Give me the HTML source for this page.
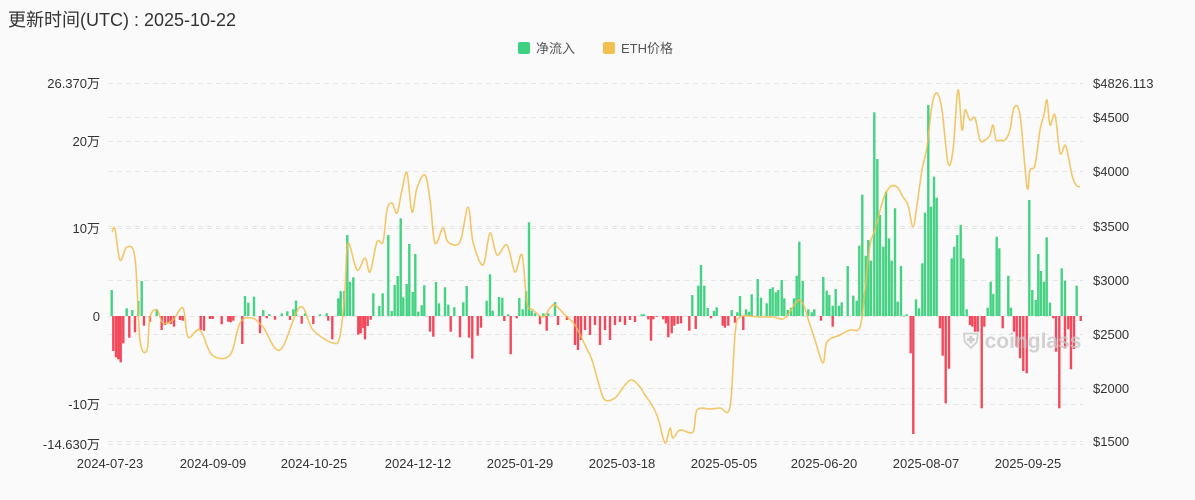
<!DOCTYPE html>
<html><head><meta charset="utf-8"><style>
html,body{margin:0;padding:0;background:#fafafa;}
body{width:1195px;height:500px;overflow:hidden;font-family:"Liberation Sans","Noto Sans CJK SC",sans-serif;}
</style></head><body>
<svg id="s" width="1195" height="500" xmlns="http://www.w3.org/2000/svg" style="position:absolute;left:0;top:0">
<text x="8" y="26" font-size="18" fill="#333" font-family="Liberation Sans, Noto Sans CJK SC, sans-serif">更新时间(UTC) : 2025-10-22</text>
<rect x="518" y="42" width="12" height="12" rx="2" fill="#3fd17f"/>
<text x="536" y="53" font-size="13" fill="#555" font-family="Liberation Sans, Noto Sans CJK SC, sans-serif">净流入</text>
<rect x="603" y="42" width="12" height="12" rx="2" fill="#f0c050"/>
<text x="621" y="53" font-size="13" fill="#555" font-family="Liberation Sans, Noto Sans CJK SC, sans-serif">ETH价格</text>
<g id="grid" stroke="#e6e6e6" stroke-dasharray="5,4" stroke-width="1"></g>
<g id="bars"></g>
<text x="963" y="348" font-size="21" font-weight="bold" fill="#c8c8c8" opacity="0.8" font-family="Liberation Sans, sans-serif">⛨ coinglass</text>
<path id="price" fill="none" stroke="#f0bd4f" stroke-opacity="0.85" stroke-width="1.6" stroke-linejoin="round"/>
<g id="labels" font-size="13" fill="#333" font-family="Liberation Sans, Noto Sans CJK SC, sans-serif"></g>
</svg>
<script>
var NS="http://www.w3.org/2000/svg";
function el(p,t,a,txt){var e=document.createElementNS(NS,t);for(var k in a)e.setAttribute(k,a[k]);if(txt!=null)e.textContent=txt;document.getElementById(p).appendChild(e);}
var gy=[83,117,141,171,226,228,280,316,334,388,404,441,444];
gy.forEach(function(y){el("grid","line",{x1:108,x2:1083,y1:y+.5,y2:y+.5});});
[["26.370万",88],["20万",146],["10万",233],["0",321],["-10万",409],["-14.630万",449]].forEach(function(a){el("labels","text",{x:100,y:a[1],"text-anchor":"end"},a[0]);});
[["$4826.113",88],["$4500",122],["$4000",176],["$3500",231],["$3000",285],["$2500",339],["$2000",393],["$1500",446]].forEach(function(a){el("labels","text",{x:1093,y:a[1]},a[0]);});
var xl=["2024-07-23","2024-09-09","2024-10-25","2024-12-12","2025-01-29","2025-03-18","2025-05-05","2025-06-20","2025-08-07","2025-09-25"];
var xp=[110,213,314,418,520,622,724,824,926,1028];
xl.forEach(function(t,i){el("labels","text",{x:xp[i],y:468,"text-anchor":"middle"},t);});
var z1=[35,360,80,415,97,420,115,393,125,333,170,418,435,378,445,398,462,380,490,420,508,432,545,430,562,424,580,418,588,392,615,430,660,433,680,430,715,385,722,363,733,363,742,195,750,335,760,322,820,370,838,408,848,370,865,195,875,423,884,345,893,318,902,145,910,382,920,342,928,222,938,366,946,252,955,425,965,406,973,346,1008,336,1017,400,1035,352,1045,404,1063,412,1090,397,1100,348,1160,392,1170,313,1178,422,1197,381,1207,383,1225,433,1258,384,1268,418,1278,364,1287,157,1295,422,1305,430,1330,430,1345,430,
40,543,48,562,55,568,62,577,70,520,88,503,105,487,132,467,150,455,185,480,195,465,205,458,213,462,222,470,240,450,248,452,302,480,312,482,330,447,338,447,365,463,385,455,392,457,400,452,427,522,480,490,500,445,525,449,570,450,605,461,640,462,685,452,697,508,775,494,782,490,790,475,795,508,803,468,812,449,990,485,1000,500,1052,485,1080,502,1107,503,1117,566,1133,497,1143,473,1213,453,1232,553,1250,445,1320,463,1340,482];
var z2=[5,703,12,703,50,708,157,645,175,617,183,555,193,617,203,684,222,693,230,682,275,690,292,697,300,648,318,688,327,695,335,643,353,597,363,653,380,670,390,627,398,622,407,637,415,630,425,600,433,655,443,690,453,683,462,655,470,587,478,485,488,603,505,688,515,697,523,688,550,591,560,632,568,645,578,677,587,627,597,677,605,667,623,558,640,647,650,662,658,497,667,344,677,527,685,480,693,542,703,97,712,237,720,405,730,500,738,335,747,475,755,542,765,385,773,665,783,558,793,707,800,703,828,658,837,685,847,550,855,398,865,75,873,380,882,290,890,353,935,535,943,500,952,465,962,435,970,535,980,688,1043,683,1052,605,1060,642,1070,470,1078,505,1105,587,1113,683,1168,360,1177,630,1187,660,1195,522,1203,573,1212,605,1220,472,1230,668,1265,565,1275,602,1310,617,
25,718,33,782,40,718,70,718,78,730,85,772,95,760,103,737,113,732,123,730,148,752,167,747,213,715,248,737,255,743,265,737,285,728,310,750,543,722,578,740,812,820,820,1062,900,745,908,827,917,970,927,866,990,735,997,740,1005,755,1013,755,1025,985,1033,740,1088,745,1122,755,1130,800,1140,835,1150,873,1160,880,1240,715,1248,815,1258,985,1275,805,1285,748,1293,868,1302,807,1322,723];
var B=[];
for(var i=0;i<z1.length;i+=2)B.push([100+z1[i]/3,170+z1[i+1]/3]);
for(var i=0;i<z2.length;i+=2)B.push([640+z2[i]/3,80+z2[i+1]/3]);
[[555,302],[558,325],[567,320],[575,345],[578,350],[581,340],[585,330],[590,335],[595,325],[600,345],[605,330],[610,340],[615,325],[620,322],[625,325],[630,320],[635,322]].forEach(function(b){B.push(b);});
var Z=316;
B.forEach(function(b){var y=b[1];var top=Math.min(y,Z),h=Math.max(Math.abs(y-Z),0.8);
el("bars","rect",{x:(b[0]-1.2).toFixed(1),y:top.toFixed(1),width:2.4,height:h.toFixed(1),fill:y<Z?"#45d383":"#f24a5c"});});
var P=[112,232,115,229,120,260,127,247,135,258,140,340,147,350,150,317,157,310,163,323,173,320,183,308,188,337,200,330,212,355,230,355,240,323,252,318,263,327,280,350,300,307,313,330,333,343,340,336,345,290,348,243,357,270,365,258,370,272,377,242,383,242,387,210,392,203,397,213,402,190,407,173,412,212,417,188,425,175,430,200,435,243,443,228,448,242,460,242,468,207,473,242,483,265,490,233,497,255,507,245,515,272,522,255,527,303,533,310,543,317,550,308,555,305,565,315,575,325,585,345,592,360,600,388,605,400,615,398,625,385,632,380,640,387,645,395,652,405,658,418,665,443,670,428,673,438,680,430,693,432,697,410,710,409,720,408,730,407,735,335,740,317,760,317,773,317,785,318,800,300,810,325,815,340,823,363,827,342,840,335,850,330,860,327,865,290,870,245,875,230,883,200,890,187,897,187,903,197,908,205,913,227,917,205,922,170,927,147,932,105,937,93,942,110,948,163,953,150,958,90,962,130,965,110,970,120,975,118,980,140,985,140,990,135,993,125,996,140,1000,140,1005,140,1010,130,1014,108,1020,115,1027,187,1030,170,1035,165,1040,130,1044,115,1047,100,1050,125,1055,115,1060,153,1065,145,1068,155,1072,175,1076,185,1080,187];
var pts=[];for(var i=0;i<P.length;i+=2)pts.push([P[i],P[i+1]]);
var d="M"+pts[0][0]+","+pts[0][1];
for(var i=0;i<pts.length-1;i++){var p0=pts[Math.max(i-1,0)],p1=pts[i],p2=pts[i+1],p3=pts[Math.min(i+2,pts.length-1)];
var c1x=p1[0]+(p2[0]-p0[0])/6,c1y=p1[1]+(p2[1]-p0[1])/6,c2x=p2[0]-(p3[0]-p1[0])/6,c2y=p2[1]-(p3[1]-p1[1])/6;
d+=" C"+c1x.toFixed(1)+","+c1y.toFixed(1)+" "+c2x.toFixed(1)+","+c2y.toFixed(1)+" "+p2[0]+","+p2[1];}
document.getElementById("price").setAttribute("d",d);
</script>
</body></html>
